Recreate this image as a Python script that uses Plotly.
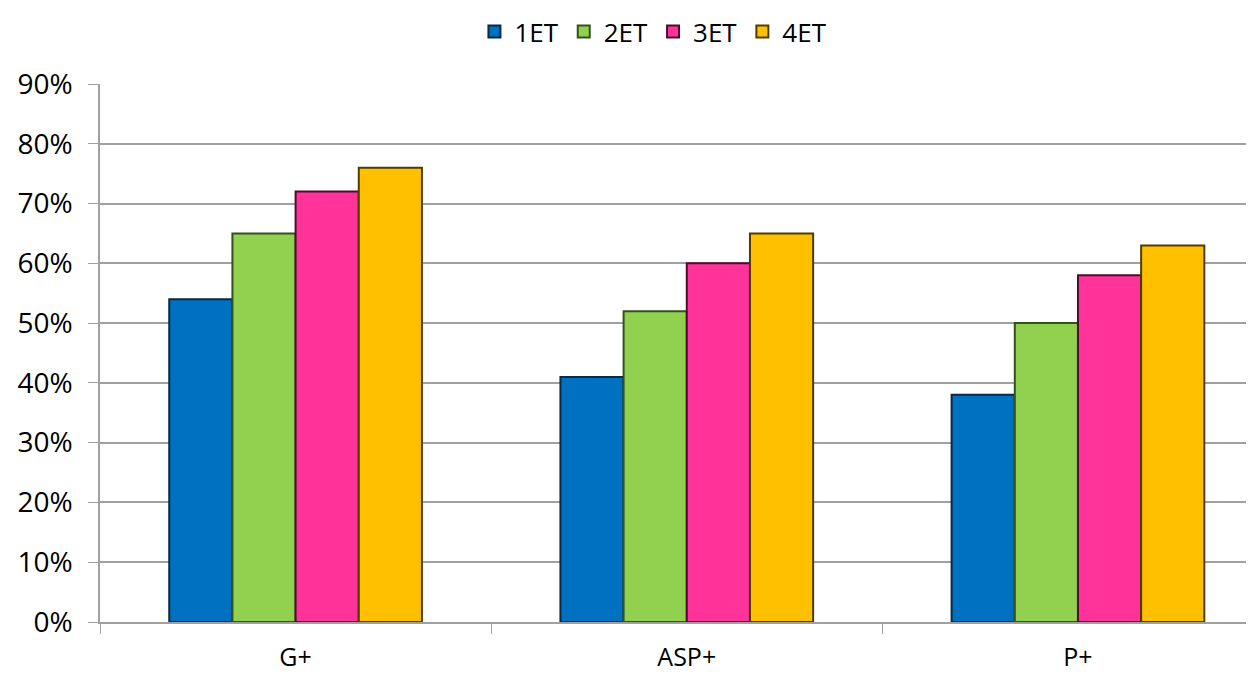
import plotly.graph_objects as go

categories = ["G+", "ASP+", "P+"]
series_names = ["1ET", "2ET", "3ET", "4ET"]
values_1et = [0.54, 0.41, 0.38]
values_2et = [0.65, 0.52, 0.50]
values_3et = [0.72, 0.60, 0.58]
values_4et = [0.76, 0.65, 0.63]
y_ticks = [0, 0.1, 0.2, 0.3, 0.4, 0.5, 0.6, 0.7, 0.8, 0.9]

series_values = [values_1et, values_2et, values_3et, values_4et]
colors = ["#0070C0", "#92D050", "#FF3399", "#FFC000"]
edge_colors = ["#082A44", "#34501C", "#4E0C2E", "#4E3C00"]

fig = go.Figure()
for name, vals, c, e in zip(series_names, series_values, colors, edge_colors):
    fig.add_trace(go.Bar(
        x=categories, y=vals, name=name,
        marker=dict(color=c, line=dict(color=e, width=2)),
    ))

font_family = "Open Sans, Noto Sans, sans-serif"
fig.update_layout(
    width=1246, height=666,
    barmode="group", bargap=0.354, bargroupgap=0.0,
    plot_bgcolor="white", paper_bgcolor="white",
    margin=dict(l=92, r=0, t=76, b=52),
    font=dict(family=font_family, size=24, color="black"),
    legend=dict(
        orientation="h", x=0.518, xanchor="center", xref="container",
        y=1.0, yanchor="top", yref="container",
        font=dict(size=26), itemwidth=30, traceorder="normal",
    ),
    xaxis=dict(
        range=[-0.5, 2.45],
        tickson="boundaries", ticks="outside", ticklen=10, tickcolor="#A0A0A0",
        showline=True, linecolor="#A0A0A0", linewidth=1.5,
        tickfont=dict(size=25), showgrid=False, automargin=False,
        ticklabelstandoff=12,
    ),
    yaxis=dict(
        range=[0, 0.9], tickvals=y_ticks, tickformat=".0%",
        ticks="outside", ticklen=10, tickcolor="#A0A0A0",
        showline=True, linecolor="#A0A0A0", linewidth=1.5,
        showgrid=True, gridcolor="#A0A0A0", gridwidth=1.5,
        tickfont=dict(size=28), zeroline=False, automargin=False,
        ticklabelstandoff=10,
    ),
)

fig.write_html("out.html")
